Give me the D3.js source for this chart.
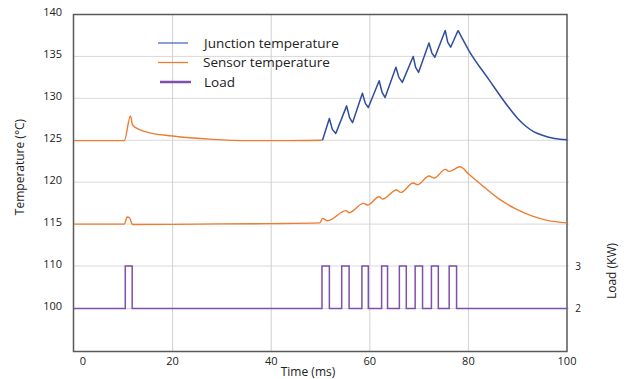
<!DOCTYPE html>
<html>
<head>
<meta charset="utf-8">
<script src="https://cdn.jsdelivr.net/npm/d3@7"></script>
<style>
  body { margin: 0; background: #fff; }
  text { font-family: "Open Sans", sans-serif; fill: #222; }
</style>
</head>
<body>
<script>
// values
var timeTicks = [0, 20, 40, 60, 80, 100];
var tempTicks = [140, 135, 130, 125, 120, 115, 110, 100];
var loadTicks = [2, 3];

// upper curve before the pulse train (drawn orange in the source)
var upperTime = [0, 10.2, 11.45, 11.9, 14.6, 20, 28.1, 34.9, 41.7, 50.4];
var upperTemp = [124.95, 124.95, 127.9, 126.8, 126.0, 125.5, 125.1, 124.95, 124.95, 125.0];

var junctionTime = [50.4, 51.8, 52.4, 53.1, 55.3, 55.9, 56.5, 58.5, 59.1, 59.7, 61.9, 62.5, 63.1, 65.3, 65.9, 66.6,
  68.8, 69.3, 69.9, 72.0, 72.6, 73.2, 75.3, 75.8, 76.4, 77.9, 80.1, 84.2, 88.2, 90, 91.6, 93.3, 95.0, 97.5, 100];
var junctionTemp = [125.0, 127.6, 126.3, 125.8, 129.1, 127.7, 127.1, 130.6, 129.4, 128.9, 132.1, 130.7, 130.1, 133.7, 132.5, 131.9,
  135.0, 133.7, 133.1, 136.6, 135.4, 134.9, 138.1, 136.7, 136.1, 138.1, 135.7, 132.2, 128.9, 127.6, 126.7, 126.0, 125.6, 125.2, 125.05];
var lastPulseEnd = 77.9;

var sensorTime = [0, 10.2, 10.8, 11.2, 11.9, 20, 30, 40, 49.9, 50.4, 51.4, 55.2, 55.8, 58.7, 59.5,
  61.9, 62.6, 65.4, 66.3, 68.8, 69.7, 72.0, 73.1, 75.3, 76.1, 78.3, 80.1, 83, 86.2, 89.5, 93.0, 96, 100];
var sensorTemp = [115.0, 115.0, 115.85, 115.8, 114.95, 114.97, 115.02, 115.06, 115.15, 115.68, 115.4, 116.6, 116.35, 117.47, 117.27,
  118.26, 117.98, 119.06, 118.78, 119.9, 119.7, 120.73, 120.5, 121.53, 121.29, 121.84, 120.95, 119.5, 118.0, 116.85, 115.95, 115.45, 115.15];

var loadTime = [0, 10.4, 11.8, 50.3, 51.8, 54.3, 55.8, 58.4, 59.7, 62.4, 63.6, 66.0, 67.4,
  69.2, 70.7, 72.5, 73.9, 76.1, 77.6, 100];
var loadValue = [2, 3, 2, 3, 2, 3, 2, 3, 2, 3, 2, 3, 2, 3, 2, 3, 2, 3, 2, 2];

var legendNames = ["Junction temperature", "Sensor temperature", "Load"];

var width = 629, height = 379;
var plotL = 74, plotR = 567, plotT = 14.5, plotB = 351.5;

var colBlue = "#2f4d9c", colOrange = "#ed7d31", colPurple = "#7e4fad";

var svg = d3.select("body").append("svg")
    .attr("width", width)
    .attr("height", height);

var x = d3.scaleLinear().domain([0, 100]).range([plotL, plotR]);
// left axis jumps from 110 to 100 in one step, so use a piecewise scale
var y = d3.scaleLinear().domain([90, 100, 110, 140]).range([plotB, 308.5, 266, plotT]);
var yLoad = d3.scaleLinear().domain([2, 3]).range([y(100), y(110)]);

// grid
svg.append("g").selectAll("line")
  .data(tempTicks.filter(function(d) { return d != 140; }))
  .enter().append("line")
    .attr("x1", plotL).attr("x2", plotR + 2)
    .attr("y1", function(d) { return y(d); })
    .attr("y2", function(d) { return y(d); })
    .attr("stroke", "#d9d9d9").attr("stroke-width", 1);

svg.append("g").selectAll("line")
  .data(timeTicks.filter(function(d) { return d > 0 && d < 100; }))
  .enter().append("line")
    .attr("x1", function(d) { return x(d); })
    .attr("x2", function(d) { return x(d); })
    .attr("y1", plotT).attr("y2", plotB)
    .attr("stroke", "#d0d0d0").attr("stroke-width", 1);

// frame
svg.append("rect")
  .attr("x", plotL - 0.5).attr("y", plotT)
  .attr("width", plotR - plotL + 0.5).attr("height", plotB - plotT)
  .attr("fill", "none").attr("stroke", "#595959").attr("stroke-width", 1.5);

// axes labels
svg.append("g").selectAll("text")
  .data(tempTicks)
  .enter().append("text")
    .attr("x", 62)
    .attr("y", function(d) { return y(d) - 2; })
    .attr("dy", "0.35em")
    .attr("text-anchor", "end")
    .style("font-size", "11px")
    .text(function(d) { return d; });

svg.append("g").selectAll("text")
  .data(timeTicks)
  .enter().append("text")
    .attr("x", function(d) { return x(d) + (d == 0 ? 9 : 0); })
    .attr("y", 365)
    .attr("text-anchor", "middle")
    .style("font-size", "11px")
    .text(function(d) { return d; });

svg.append("g").selectAll("text")
  .data(loadTicks)
  .enter().append("text")
    .attr("x", 578)
    .attr("y", function(d) { return yLoad(d); })
    .attr("dy", "0.35em")
    .attr("text-anchor", "middle")
    .style("font-size", "10px")
    .text(function(d) { return d; });

svg.append("text")
  .attr("x", 308).attr("y", 376)
  .attr("text-anchor", "middle")
  .style("font-size", "12px")
  .text("Time (ms)");

svg.append("text")
  .attr("transform", "translate(24,167) rotate(-90)")
  .attr("text-anchor", "middle")
  .style("font-size", "12px")
  .text("Temperature (°C)");

svg.append("text")
  .attr("transform", "translate(616,271) rotate(-90)")
  .attr("text-anchor", "middle")
  .style("font-size", "12px")
  .text("Load (KW)");

// lines
var tempLine = d3.line()
  .x(function(d) { return x(d[0]); })
  .y(function(d) { return y(d[1]); })
  .curve(d3.curveMonotoneX);

var sharpLine = d3.line()
  .x(function(d) { return x(d[0]); })
  .y(function(d) { return y(d[1]); });

var loadLine = d3.line()
  .x(function(d) { return x(d[0]); })
  .y(function(d) { return yLoad(d[1]); })
  .curve(d3.curveStepAfter);

svg.append("path")
  .datum(d3.zip(loadTime, loadValue))
  .attr("d", loadLine)
  .attr("fill", "none").attr("stroke", colPurple).attr("stroke-width", 1.5);

svg.append("path")
  .datum(d3.zip(sensorTime, sensorTemp))
  .attr("d", tempLine)
  .attr("fill", "none").attr("stroke", colOrange).attr("stroke-width", 1.4);

svg.append("path")
  .datum(d3.zip(upperTime, upperTemp))
  .attr("d", tempLine)
  .attr("fill", "none").attr("stroke", colOrange).attr("stroke-width", 1.4);

// junction: pointed tips during the pulses, smooth cool-down after
var junction = d3.zip(junctionTime, junctionTemp);
svg.append("path")
  .datum(junction.filter(function(d) { return d[0] <= lastPulseEnd; }))
  .attr("d", sharpLine)
  .attr("fill", "none").attr("stroke", colBlue).attr("stroke-width", 1.5)
  .attr("stroke-linejoin", "round");
svg.append("path")
  .datum(junction.filter(function(d) { return d[0] >= lastPulseEnd; }))
  .attr("d", tempLine)
  .attr("fill", "none").attr("stroke", colBlue).attr("stroke-width", 1.5);

// legend
var legendCols = ["#4a6fbf", colOrange, colPurple];
var legendW = [1.3, 1.3, 2.5];
var legend = svg.append("g").selectAll("g")
  .data(legendNames)
  .enter().append("g")
    .attr("transform", function(d, i) { return "translate(0," + (43 + i * 19.5) + ")"; });

legend.append("line")
  .attr("x1", function(d, i) { return i == 2 ? 160 : 158; })
  .attr("x2", function(d, i) { return i == 2 ? 191 : 188; })
  .attr("stroke", function(d, i) { return legendCols[i]; })
  .attr("stroke-width", function(d, i) { return legendW[i]; });

legend.append("text")
  .attr("x", function(d, i) { return i == 1 ? 203 : 204; })
  .attr("dy", "0.35em")
  .style("font-size", "13.5px")
  .text(function(d) { return d; });
</script>
</body>
</html>
